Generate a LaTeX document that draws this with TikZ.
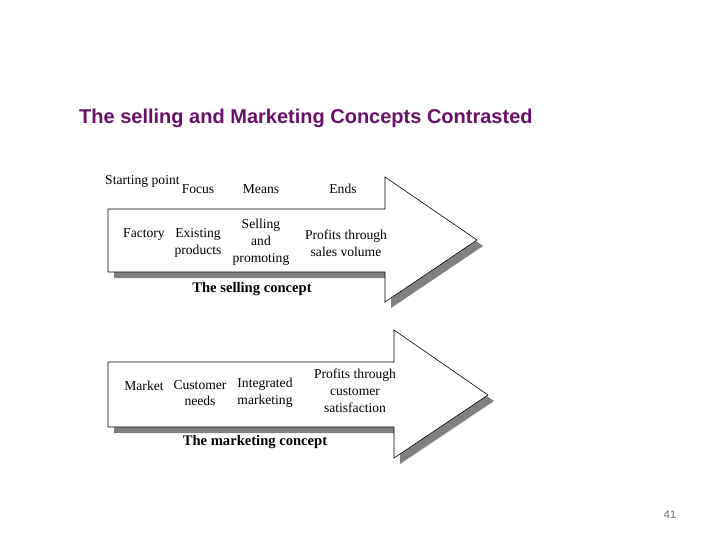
\documentclass[tikz,border=0pt]{standalone}
\usepackage{fontspec}
\setmainfont{Liberation Serif}
\newfontfamily\titlefont{Liberation Sans}
\definecolor{titlepurple}{RGB}{106,16,106}
\definecolor{shadowgray}{RGB}{128,128,128}
\definecolor{pagegray}{RGB}{110,110,110}
\tikzset{
  txt/.style={font=\fontsize{13.6}{16.8}\selectfont, align=center, inner sep=0pt},
  lbl/.style={font=\fontsize{14.6}{17}\selectfont\bfseries, inner sep=0pt},
  arrowshape/.style={fill=white, draw=black, line width=0.6pt, line join=miter},
  shadowshape/.style={fill=shadowgray, draw=none}
}
\begin{document}
\begin{tikzpicture}[x=1pt,y=-1pt]
\useasboundingbox (0,0) rectangle (720,540);
\fill[white] (0,0) rectangle (720,540);
% title
\node[font=\titlefont\fontsize{20}{24}\selectfont\bfseries, text=titlepurple, anchor=west, inner sep=0pt] (title) at (79,118) {The selling and Marketing Concepts Contrasted};
% arrow 1
\fill[shadowshape, shift={(6,6)}] (108,209) -- (385,209) -- (385,177) -- (477,240) -- (385,302) -- (385,272) -- (108,272) -- cycle;
\draw[arrowshape] (108,209) -- (385,209) -- (385,177) -- (477,240) -- (385,302) -- (385,272) -- (108,272) -- cycle;
\node[txt, anchor=west] (start) at (105,181) {Starting point};
\node[txt] (focus) at (198,189) {Focus};
\node[txt] (means) at (261,189) {Means};
\node[txt] (ends) at (343,189) {Ends};
\node[txt] (factory) at (144,235) {Factory};
\node[txt] (existing) at (198,243) {Existing\\products};
\node[txt] (selling) at (261,242) {Selling\\and\\promoting};
\node[txt] (profits1) at (346,243) {Profits through\\sales volume};
\node[lbl] (sellconcept) at (252,289) {The selling concept};
% arrow 2
\fill[shadowshape, shift={(6,6)}] (108,362) -- (394,362) -- (394,330) -- (488,395) -- (394,458) -- (394,427) -- (108,427) -- cycle;
\draw[arrowshape] (108,362) -- (394,362) -- (394,330) -- (488,395) -- (394,458) -- (394,427) -- (108,427) -- cycle;
\node[txt] (market) at (144,386) {Market};
\node[txt] (custneeds) at (200,393) {Customer\\needs};
\node[txt] (integrated) at (265,393) {Integrated\\marketing};
\node[txt] (profits2) at (355,391) {Profits through\\customer\\satisfaction};
\node[lbl] (mktconcept) at (255,442) {The marketing concept};
% page number
\node[font=\titlefont\fontsize{11}{13}\selectfont, text=pagegray, inner sep=0pt] (page) at (670,515) {41};
\end{tikzpicture}
\end{document}
